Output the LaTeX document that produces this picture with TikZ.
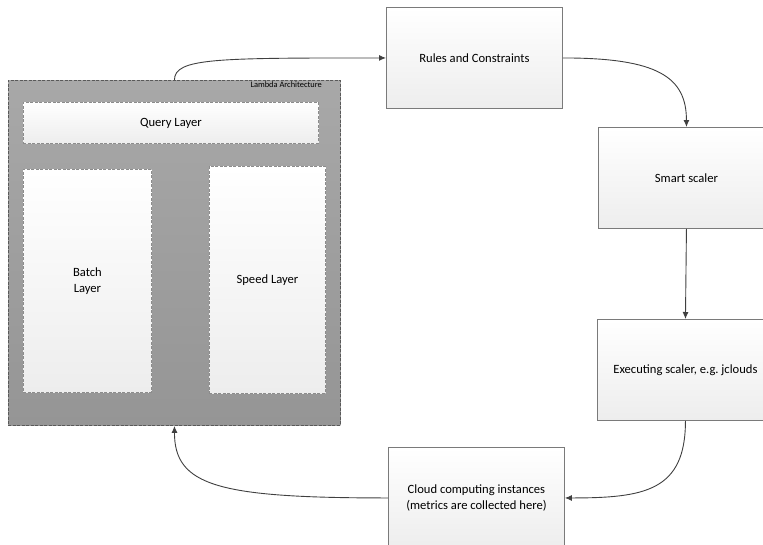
\documentclass[tikz,border=0pt]{standalone}
\usepackage{fontspec}
\setmainfont{Carlito}
\frenchspacing
\usetikzlibrary{arrows.meta,calc}
\definecolor{edgegray}{HTML}{7A7A7A}
\definecolor{arrowgray}{HTML}{404040}
\definecolor{lamtop}{HTML}{A8A8A8}
\definecolor{lambot}{HTML}{959595}
\definecolor{boxbot}{HTML}{EDEDED}
\tikzset{
  procbox/.style={draw=edgegray, line width=0.9pt, top color=white, bottom color=boxbot,
    anchor=north west, inner sep=0pt, align=center, minimum width=176pt, minimum height=101pt,
    font=\fontsize{12.6}{15.5}\selectfont},
  lambox/.style={draw=black!65, dash pattern=on 3pt off 1.5pt, line width=0.9pt,
    top color=lamtop, bottom color=lambot, anchor=north west, inner sep=0pt},
  layerbox/.style={draw=black!45, dash pattern=on 3pt off 1.5pt, line width=0.9pt,
    top color=white, bottom color=boxbot, anchor=north west, inner sep=0pt, align=center,
    font=\fontsize{12.6}{15.5}\selectfont},
  arr/.style={draw=arrowgray, line width=0.9pt, -{Latex[length=7pt,width=6pt]}}
}
\begin{document}
\begin{tikzpicture}[x=1pt,y=-1pt]
\useasboundingbox (0,0) rectangle (763,544);
\clip (0,0) rectangle (763,544);
% lambda container
\node[lambox, minimum width=332pt, minimum height=345pt] (lam) at (8,80) {};
\node[anchor=east, font=\fontsize{8.4}{10}\selectfont, inner sep=0pt] (lamlabel) at (322,85) {Lambda Architecture};
\node[layerbox, minimum width=295pt, minimum height=41pt] (query) at (23,102) {Query Layer};
\node[layerbox, minimum width=128pt, minimum height=223pt] (batch) at (23,169) {Batch\\Layer};
\node[layerbox, minimum width=116pt, minimum height=227pt] (speed) at (209,166) {Speed Layer};
% process boxes
\node[procbox] (rules) at (386,7) {Rules and Constraints};
\node[procbox] (smart) at (598,127) {Smart scaler};
\node[procbox] (exec) at (597,319) {Executing scaler, e.g.\ jclouds};
\node[procbox] (cloud) at (388,447) {Cloud computing instances\\(metrics are collected here)};
% connectors
\draw[arr] (lam.north) .. controls +(0,-22) and +(-170,0) .. (rules.west);
\draw[arr] (rules.east) .. controls +(95,0) and +(0,-50) .. (smart.north);
\draw[arr] (smart.south) -- (exec.north);
\draw[arr] (exec.south) .. controls +(0,70) and +(80,0) .. (cloud.east);
\draw[arr] (cloud.west) .. controls +(-170,0) and +(0,60) .. (lam.south);
\end{tikzpicture}
\end{document}
